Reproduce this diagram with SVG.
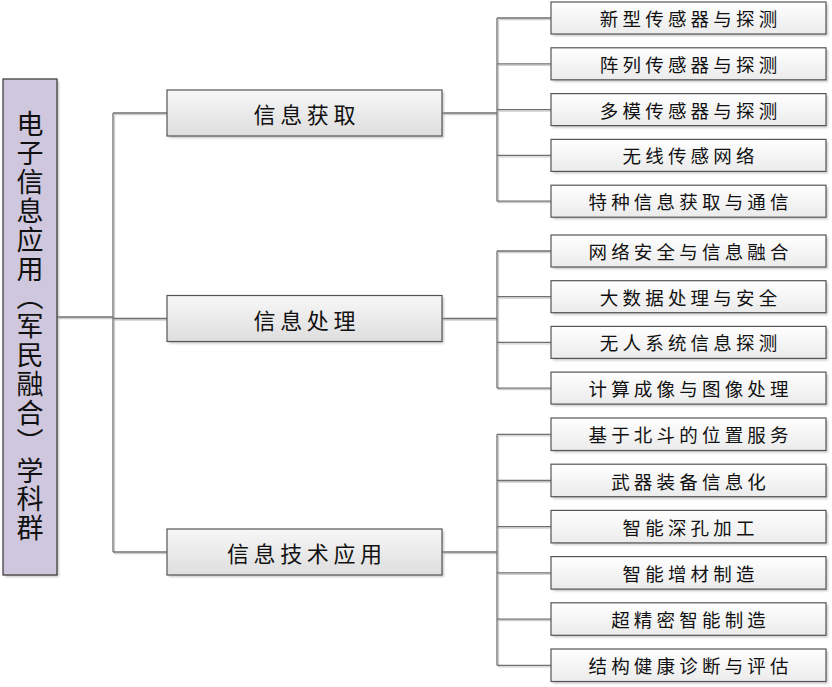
<svg xmlns="http://www.w3.org/2000/svg" width="832" height="687" viewBox="0 0 832 687">
<defs>
<linearGradient id="gMid" x1="0" y1="0" x2="0" y2="1">
<stop offset="0" stop-color="#f7f7f7"/>
<stop offset="1" stop-color="#dedede"/>
</linearGradient>
<linearGradient id="gLeaf" x1="0" y1="0" x2="0" y2="1">
<stop offset="0" stop-color="#ffffff"/>
<stop offset="1" stop-color="#ebebeb"/>
</linearGradient>
<filter id="sh" x="-10%" y="-10%" width="130%" height="150%">
<feGaussianBlur stdDeviation="1"/>
</filter>
</defs>
<style>
.t{font-family:"Noto Sans CJK SC","Noto Sans CJK TC",sans-serif;fill:#111;text-anchor:middle;dominant-baseline:central}
.root{fill:#cfc7dd;stroke:#333;stroke-width:1.2}
.mid{fill:url(#gMid);stroke:#555;stroke-width:1.2}
.leaf{fill:url(#gLeaf);stroke:#555;stroke-width:1.2}
.shadow{fill:#9a9a9a;opacity:0.55;filter:url(#sh)}
.rt{font-family:"Noto Sans CJK SC","Noto Sans CJK TC",sans-serif;fill:#111;font-size:27px;letter-spacing:1.86px;writing-mode:vertical-rl;text-anchor:start}
.mt{font-size:22px;letter-spacing:4.6px}
.lt{font-size:18.5px;letter-spacing:4.2px}
.cn{fill:none;stroke:#707070;stroke-width:1.3}
.cns{fill:none;stroke:#cfcfcf;stroke-width:1.3}
</style>
<rect width="832" height="687" fill="#ffffff"/>

<g id="connectors">
<g class="cns" transform="translate(1.5,1.5)">
<path d="M57,317H113M113,113V552M113,113H167M113,318.5H167M113,552H167"/>
<path d="M442,113H497M497,18V201.5M497,18H551M497,63.8H551M497,109.6H551M497,155.4H551M497,201.2H551"/>
<path d="M442,318.5H497M497,251V388.1M497,251H551M497,296.7H551M497,342.4H551M497,388.1H551"/>
<path d="M442,552H497M497,434.3V665.3M497,434.3H551M497,480.5H551M497,526.7H551M497,572.9H551M497,619.1H551M497,665.3H551"/>
</g>
<g class="cn">
<path d="M57,317H113M113,113V552M113,113H167M113,318.5H167M113,552H167"/>
<path d="M442,113H497M497,18V201.5M497,18H551M497,63.8H551M497,109.6H551M497,155.4H551M497,201.2H551"/>
<path d="M442,318.5H497M497,251V388.1M497,251H551M497,296.7H551M497,342.4H551M497,388.1H551"/>
<path d="M442,552H497M497,434.3V665.3M497,434.3H551M497,480.5H551M497,526.7H551M497,572.9H551M497,619.1H551M497,665.3H551"/>
</g>
</g>

<g id="root">
<rect class="shadow" x="5" y="81" width="54" height="496"/>
<rect class="root" x="3" y="79" width="54" height="496"/>
<text class="rt" x="30" y="110.5">电子信息应用（军民融合）学科群</text>
</g>

<g id="mid1">
<rect class="shadow" x="169" y="92" width="275" height="46"/>
<rect class="mid" x="167" y="90" width="275" height="46"/>
<text class="t mt" x="306.8" y="113">信息获取</text>
</g>
<g id="mid2">
<rect class="shadow" x="169" y="297.5" width="275" height="46"/>
<rect class="mid" x="167" y="295.5" width="275" height="46"/>
<text class="t mt" x="306.8" y="318.5">信息处理</text>
</g>
<g id="mid3">
<rect class="shadow" x="169" y="531" width="275" height="46"/>
<rect class="mid" x="167" y="529" width="275" height="46"/>
<text class="t mt" x="306.8" y="552">信息技术应用</text>
</g>

<g id="leaf1">
<rect class="shadow" x="553" y="4" width="275" height="32"/>
<rect class="leaf" x="551" y="2" width="275" height="32"/>
<text class="t lt" x="690.6" y="18">新型传感器与探测</text>
</g>
<g id="leaf2">
<rect class="shadow" x="553" y="49.8" width="275" height="32"/>
<rect class="leaf" x="551" y="47.8" width="275" height="32"/>
<text class="t lt" x="690.6" y="63.8">阵列传感器与探测</text>
</g>
<g id="leaf3">
<rect class="shadow" x="553" y="95.6" width="275" height="32"/>
<rect class="leaf" x="551" y="93.6" width="275" height="32"/>
<text class="t lt" x="690.6" y="109.6">多模传感器与探测</text>
</g>
<g id="leaf4">
<rect class="shadow" x="553" y="141.4" width="275" height="32"/>
<rect class="leaf" x="551" y="139.4" width="275" height="32"/>
<text class="t lt" x="690.6" y="155.4">无线传感网络</text>
</g>
<g id="leaf5">
<rect class="shadow" x="553" y="187.2" width="275" height="32"/>
<rect class="leaf" x="551" y="185.2" width="275" height="32"/>
<text class="t lt" x="690.6" y="201.2">特种信息获取与通信</text>
</g>

<g id="leaf6">
<rect class="shadow" x="553" y="237" width="275" height="32"/>
<rect class="leaf" x="551" y="235" width="275" height="32"/>
<text class="t lt" x="690.6" y="251">网络安全与信息融合</text>
</g>
<g id="leaf7">
<rect class="shadow" x="553" y="282.7" width="275" height="32"/>
<rect class="leaf" x="551" y="280.7" width="275" height="32"/>
<text class="t lt" x="690.6" y="296.7">大数据处理与安全</text>
</g>
<g id="leaf8">
<rect class="shadow" x="553" y="328.4" width="275" height="32"/>
<rect class="leaf" x="551" y="326.4" width="275" height="32"/>
<text class="t lt" x="690.6" y="342.4">无人系统信息探测</text>
</g>
<g id="leaf9">
<rect class="shadow" x="553" y="374.1" width="275" height="32"/>
<rect class="leaf" x="551" y="372.1" width="275" height="32"/>
<text class="t lt" x="690.6" y="388.1">计算成像与图像处理</text>
</g>

<g id="leaf10">
<rect class="shadow" x="553" y="420" width="275" height="32.5"/>
<rect class="leaf" x="551" y="418" width="275" height="32.5"/>
<text class="t lt" x="690.6" y="434.3">基于北斗的位置服务</text>
</g>
<g id="leaf11">
<rect class="shadow" x="553" y="466.2" width="275" height="32.5"/>
<rect class="leaf" x="551" y="464.2" width="275" height="32.5"/>
<text class="t lt" x="690.6" y="480.5">武器装备信息化</text>
</g>
<g id="leaf12">
<rect class="shadow" x="553" y="512.4" width="275" height="32.5"/>
<rect class="leaf" x="551" y="510.4" width="275" height="32.5"/>
<text class="t lt" x="690.6" y="526.7">智能深孔加工</text>
</g>
<g id="leaf13">
<rect class="shadow" x="553" y="558.6" width="275" height="32.5"/>
<rect class="leaf" x="551" y="556.6" width="275" height="32.5"/>
<text class="t lt" x="690.6" y="572.9">智能增材制造</text>
</g>
<g id="leaf14">
<rect class="shadow" x="553" y="604.8" width="275" height="32.5"/>
<rect class="leaf" x="551" y="602.8" width="275" height="32.5"/>
<text class="t lt" x="690.6" y="619.1">超精密智能制造</text>
</g>
<g id="leaf15">
<rect class="shadow" x="553" y="651" width="275" height="32.5"/>
<rect class="leaf" x="551" y="649" width="275" height="32.5"/>
<text class="t lt" x="690.6" y="665.3">结构健康诊断与评估</text>
</g>
</svg>
